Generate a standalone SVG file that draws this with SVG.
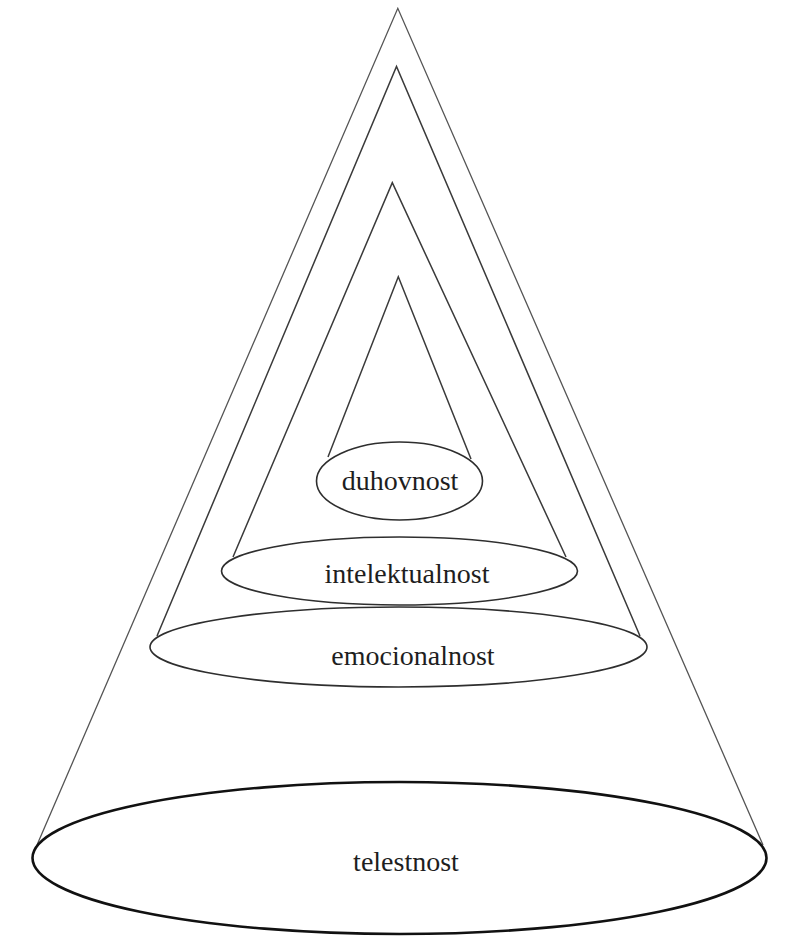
<svg xmlns="http://www.w3.org/2000/svg" width="795" height="937" viewBox="0 0 795 937">
<style>
.cone{fill:none;stroke:#3a3a3a;stroke-width:1.5;stroke-linejoin:miter}
.ell{fill:#fff;stroke:#2e2e2e;stroke-width:1.6}
.lbl{font-family:"Liberation Serif","Times New Roman",serif;font-size:28px;fill:#1e1e1e;text-anchor:middle}
</style>
<rect width="795" height="937" fill="#fff"/>
<g id="connectors">
<polyline class="cone" style="stroke:#555;stroke-width:1.3" points="37,845 397.8,8.3 763,845"/>
<polyline class="cone" points="157,636 396.5,66.5 640,636"/>
<polyline class="cone" points="233,557 392.3,182.7 566,557"/>
<polyline class="cone" points="328,457 398.3,276.7 471,459"/>
</g>
<g id="telestnost">
<ellipse class="ell" cx="399.5" cy="858" rx="367" ry="76" style="stroke:#111;stroke-width:2.6"/>
<text class="lbl" x="406" y="871" font-size="29">telestnost</text>
</g>
<g id="emocionalnost">
<ellipse class="ell" cx="398.5" cy="647" rx="248.5" ry="40"/>
<text class="lbl" x="413" y="665">emocionalnost</text>
</g>
<g id="intelektualnost">
<ellipse class="ell" cx="399.5" cy="571" rx="178" ry="34"/>
<text class="lbl" x="407" y="583">intelektualnost</text>
</g>
<g id="duhovnost">
<ellipse class="ell" cx="399.5" cy="481" rx="83" ry="39"/>
<text class="lbl" x="400" y="490">duhovnost</text>
</g>
</svg>
